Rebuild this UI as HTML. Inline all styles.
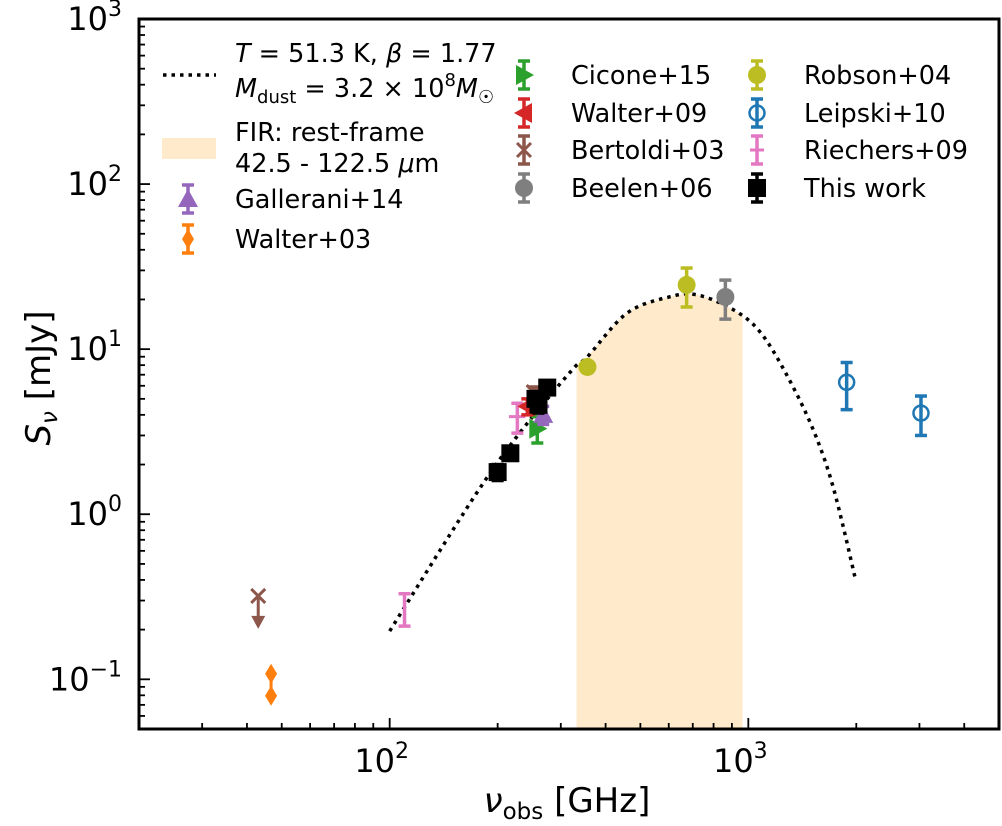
<!DOCTYPE html>
<html><head><meta charset="utf-8"><style>
body{margin:0;background:#fff;}
svg{display:block;font-family:"DejaVu Sans","Liberation Sans",sans-serif;}
</style></head><body>
<svg id="chart" width="1002" height="826" viewBox="0 0 1002 826" xmlns="http://www.w3.org/2000/svg">
<g id="band"></g>
<g id="curve"></g>
<g id="points"></g>
<rect x="139" y="19" width="860" height="710" fill="none" stroke="#000" stroke-width="3"/>
<g id="ticks"></g>
<text x="567" y="812" font-size="34" text-anchor="middle"><tspan font-style="italic">ν</tspan><tspan font-size="23" dy="7">obs</tspan><tspan dy="-7"> [GHz]</tspan></text>
<text transform="translate(50,378) rotate(-90)" font-size="34" text-anchor="middle"><tspan font-style="italic">S</tspan><tspan font-size="23" dy="7" font-style="italic">ν</tspan><tspan dy="-7"> [mJy]</tspan></text>
<g id="legend">
<line x1="163" y1="75" x2="216" y2="75" stroke="#000" stroke-width="3.5" stroke-dasharray="3.5 5"/>
<text x="235" y="62" font-size="25.5"><tspan font-style="italic">T</tspan> = 51.3 K, <tspan font-style="italic">β</tspan> = 1.77</text>
<text x="235" y="97" font-size="25.5"><tspan font-style="italic">M</tspan><tspan font-size="18" dy="6">dust</tspan><tspan dy="-6"> = 3.2 × 10</tspan><tspan font-size="18" dy="-11">8</tspan><tspan dy="11" font-style="italic">M</tspan><tspan font-size="18" dy="6">☉</tspan></text>
<rect x="162" y="138" width="54" height="21" fill="#ffebcc"/>
<text x="235" y="141" font-size="25.5">FIR: rest-frame</text>
<text x="235" y="172" font-size="25.5">42.5 - 122.5 <tspan font-style="italic">μ</tspan>m</text>
</g>
</svg>
<script>
const NS="http://www.w3.org/2000/svg";
// axis domain
const xMin=20,xMax=5000,yMin=0.05,yMax=1000;
// model curve
const curveNu=[100,171,231,323,356,460,607,721,910,1082,1288,1521,1730,1992];
const curveS=[0.196,1.25,3.13,7.5,9.0,16.6,20.8,21.3,17.3,12.6,6.8,3.2,1.42,0.40];
const firRange=[332,964];
// datasets
const galleraniNu=[268],galleraniS=[4.0],galleraniErr=[0.5];
const walter03Nu=[46.7],walter03S=[0.108];
const ciconeNu=[258],ciconeS=[3.3],ciconeErr=[0.6];
const walter09Nu=[242],walter09S=[4.5],walter09Err=[0.5];
const bertoldiNu=[252],bertoldiS=[5.5],bertoldiErr=[0.4];
const bertoldiLimNu=[43],bertoldiLimS=[0.32];
const beelenNu=[863],beelenS=[20.7],beelenErr=[5.5];
const robsonNu=[356,673],robsonS=[7.8,24.5],robsonErr=[0.5,6.5];
const leipskiNu=[1880,3030],leipskiS=[6.3,4.1],leipskiErr=[2.0,1.1];
const riechersNu=[110,227],riechersS=[0.27,3.9],riechersErr=[0.06,0.8],riechersXErr=[0,12];
const thisNu=[200,217,255,260,275],thisS=[1.8,2.34,5.0,4.6,5.85],thisErr=[0.2,0.2,0.4,0.5,0.5];

const X0=139,X1=999,Y0=19,Y1=729;
const L=Math.log10;
function xs(v){return X0+(L(v)-L(xMin))/(L(xMax)-L(xMin))*(X1-X0);}
function ys(v){return Y1-(L(v)-L(yMin))/(L(yMax)-L(yMin))*(Y1-Y0);}
function mk(tag,attrs,parent){const e=document.createElementNS(NS,tag);for(const k in attrs)e.setAttribute(k,attrs[k]);parent.appendChild(e);return e;}
// smooth curve points (Catmull-Rom in pixel space)
const P=curveNu.map((n,i)=>[xs(n),ys(curveS[i])]);
const dense=[];
for(let i=0;i<P.length-1;i++){const p0=P[Math.max(i-1,0)],p1=P[i],p2=P[i+1],p3=P[Math.min(i+2,P.length-1)];
 for(let k=0;k<20;k++){const t=k/20,t2=t*t,t3=t2*t;
  const f=(a,b,c,d)=>0.5*(2*b+(-a+c)*t+(2*a-5*b+4*c-d)*t2+(-a+3*b-3*c+d)*t3);
  dense.push([f(p0[0],p1[0],p2[0],p3[0]),f(p0[1],p1[1],p2[1],p3[1])]);}}
dense.push(P[P.length-1]);
function curveYAt(x){for(let i=0;i<dense.length-1;i++){if(x>=dense[i][0]&&x<=dense[i+1][0]){const t=(x-dense[i][0])/(dense[i+1][0]-dense[i][0]);return dense[i][1]+t*(dense[i+1][1]-dense[i][1]);}}return Y1;}
const bx0=xs(firRange[0]),bx1=xs(firRange[1]);
let bp=`M${bx0},${Y1}`;
for(let x=bx0;x<=bx1;x+=2)bp+=` L${x},${curveYAt(x)}`;
bp+=` L${bx1},${curveYAt(bx1)} L${bx1},${Y1} Z`;
const band=mk('path',{d:bp,fill:'#ffebcc'},document.getElementById('band'));


const cp=dense.map((p,i)=>(i?'L':'M')+p[0].toFixed(1)+','+p[1].toFixed(1)).join(' ');
const cl=mk('path',{d:cp,fill:'none',stroke:'#000','stroke-width':3.5,'stroke-dasharray':'3.5 5'},document.getElementById('curve'));



function marker(g,shape,x,y,c,s){s=s||9;
 if(shape==='circle')mk('circle',{cx:x,cy:y,r:s,fill:c},g);
 else if(shape==='ocircle')mk('circle',{cx:x,cy:y,r:s-1.5,fill:'none',stroke:c,'stroke-width':2.5},g);
 else if(shape==='square')mk('rect',{x:x-s,y:y-s,width:2*s,height:2*s,fill:c},g);
 else if(shape==='tup')mk('polygon',{points:`${x},${y-s-1} ${x+s+1},${y+s-1} ${x-s-1},${y+s-1}`,fill:c},g);
 else if(shape==='tright')mk('polygon',{points:`${x+s+1},${y} ${x-s+1},${y-s-1} ${x-s+1},${y+s+1}`,fill:c},g);
 else if(shape==='tleft')mk('polygon',{points:`${x-s-1},${y} ${x+s-1},${y-s-1} ${x+s-1},${y+s+1}`,fill:c},g);
 else if(shape==='diamond')mk('polygon',{points:`${x},${y-s-2} ${x+s-2},${y} ${x},${y+s+2} ${x-s+2},${y}`,fill:c},g);
 else if(shape==='x'){mk('path',{d:`M${x-7},${y-7}L${x+7},${y+7}M${x+7},${y-7}L${x-7},${y+7}`,stroke:c,'stroke-width':3},g);}
}
function errbar(g,x,y1,y2,c){mk('line',{x1:x,y1:y1,x2:x,y2:y2,stroke:c,'stroke-width':3.5},g);
 mk('line',{x1:x-6,y1:y1,x2:x+6,y2:y1,stroke:c,'stroke-width':3.5},g);
 mk('line',{x1:x-6,y1:y2,x2:x+6,y2:y2,stroke:c,'stroke-width':3.5},g);}
const pts=document.getElementById('points');
function series(name,nu,S,err,shape,c,xerr){
 const g=mk('g',{},pts);
 
 
 nu.forEach((n,i)=>{const x=xs(n),y=ys(S[i]);
  if(err&&err[i])errbar(g,x,ys(S[i]+err[i]),ys(Math.max(S[i]-err[i],1e-3)),c);
  if(xerr&&xerr[i])mk('line',{x1:xs(n-xerr[i]),y1:y,x2:xs(n+xerr[i]),y2:y,stroke:c,'stroke-width':3},g);
  marker(g,shape,x,y,c);});
 return g;}
function limits(name,nu,S,shape,c,head){
 const g=mk('g',{},pts);
 
 
 nu.forEach((n,i)=>{const x=xs(n),y=ys(S[i]);
  mk('line',{x1:x,y1:y,x2:x,y2:y+24,stroke:c,'stroke-width':3},g);
  if(head==='diamond')marker(g,'diamond',x,y+22,c,8);
  else mk('polygon',{points:`${x-7},${y+20} ${x+7},${y+20} ${x},${y+33}`,fill:c},g);
  marker(g,shape,x,y,c,shape==='diamond'?8:9);});}
limits('walter03-upper-limit',walter03Nu,walter03S,'diamond','#ff7f0e','diamond');
limits('bertoldi03-upper-limit',bertoldiLimNu,bertoldiLimS,'x','#8c564b','arrow');
series('riechers09-points',riechersNu,riechersS,riechersErr,'hline','#e377c2',riechersXErr);
series('cicone15-points',ciconeNu,ciconeS,ciconeErr,'tright','#2ca02c');
series('gallerani14-points',galleraniNu,galleraniS,galleraniErr,'tup','#9467bd');
series('walter09-points',walter09Nu,walter09S,walter09Err,'tleft','#d62728');
series('bertoldi03-points',bertoldiNu,bertoldiS,bertoldiErr,'x','#8c564b');
series('this-work-points',thisNu,thisS,thisErr,'square','#000');
series('robson04-points',robsonNu,robsonS,robsonErr,'circle','#bcbd22');
series('beelen06-points',beelenNu,beelenS,beelenErr,'circle','#7f7f7f');
series('leipski10-points',leipskiNu,leipskiS,leipskiErr,'ocircle','#1f77b4');

// ticks
const tk=document.getElementById('ticks');
for(let d=1;d<=3;d++)for(let m=1;m<=9;m++){const v=m*Math.pow(10,d);if(v<xMin||v>xMax)continue;const x=xs(v);const len=m===1?11:6;
 mk('line',{x1:x,y1:Y1,x2:x,y2:Y1-len,stroke:'#000','stroke-width':1.8},tk);}
for(let d=-2;d<=3;d++)for(let m=1;m<=9;m++){const v=m*Math.pow(10,d);if(v<yMin||v>yMax)continue;const y=ys(v);const len=m===1?11:6;
 mk('line',{x1:X0,y1:y,x2:X0+len,y2:y,stroke:'#000','stroke-width':1.8},tk);}
const xTickExp=[2,3];
xTickExp.forEach(e=>{const t=mk('text',{x:xs(Math.pow(10,e))-8,y:772,'font-size':32,'text-anchor':'middle'},tk);
 
 
 t.innerHTML=`10<tspan font-size="22" dy="-14">${e}</tspan>`;});
const yTickExp=[-1,0,1,2,3];
yTickExp.forEach(e=>{const t=mk('text',{x:122,y:ys(Math.pow(10,e))+11,'font-size':32,'text-anchor':'end'},tk);
 
 
 t.innerHTML=`10<tspan font-size="22" dy="-14">${e<0?'−'+(-e):e}</tspan>`;});

// legend markers
const lg=document.getElementById('legend');
const legNames=['Gallerani+14','Walter+03','Cicone+15','Walter+09','Bertoldi+03','Beelen+06','Robson+04','Leipski+10','Riechers+09','This work'];
const legShapes=['tup','diamond','tright','tleft','x','circle','circle','ocircle','hline','square'];
const legColors=['#9467bd','#ff7f0e','#2ca02c','#d62728','#8c564b','#7f7f7f','#bcbd22','#1f77b4','#e377c2','#000'];
const legPos=[[188,199],[188,239],[524,75],[524,113],[524,150],[524,188],[757,75],[757,113],[757,150],[757,188]];
legNames.forEach((n,i)=>{const g=mk('g',{},lg);
 
 
 const [x,y]=legPos[i];
 errbar(g,x,y-14,y+14,legColors[i]);
 if(legShapes[i]==='hline')mk('line',{x1:x-7,y1:y,x2:x+7,y2:y,stroke:legColors[i],'stroke-width':3},g);
 marker(g,legShapes[i],x,y,legColors[i],legShapes[i]==='diamond'?8:9);
 const t=mk('text',{x:x+47,y:y+9,'font-size':25.5},g);t.textContent=n;});
</script>
</body></html>
